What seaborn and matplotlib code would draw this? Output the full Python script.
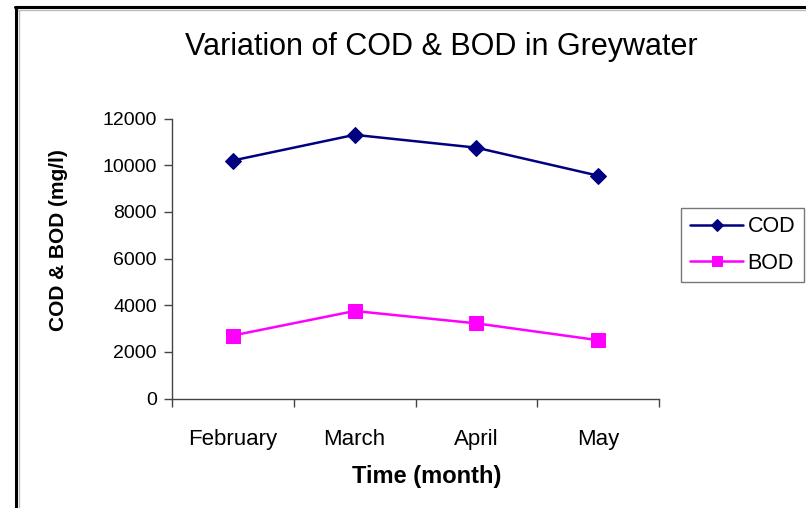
import matplotlib
matplotlib.use("Agg")
import matplotlib.pyplot as plt
import seaborn as sns
import pandas as pd
from matplotlib.lines import Line2D

# data
months = ["February", "March", "April", "May"]
cod = [10200, 11300, 10750, 9550]
bod = [2700, 3750, 3220, 2500]

df = pd.DataFrame({"month": months, "COD": cod, "BOD": bod})

sns.set_style("white")
plt.rcParams["font.family"] = ["Liberation Sans", "DejaVu Sans"]
plt.rcParams["text.color"] = "black"
plt.rcParams["axes.labelcolor"] = "black"
plt.rcParams["xtick.color"] = "black"
plt.rcParams["ytick.color"] = "black"

fig = plt.figure(figsize=(8.06, 5.08), dpi=100)
ax = fig.add_axes([172 / 806, 1 - 398.5 / 508, 487 / 806, 280 / 508])

sns.lineplot(data=df, x="month", y="COD", ax=ax, color="#000080", marker="D",
             markersize=8, markeredgecolor="#000080", linewidth=1.8, label="COD", sort=False)
sns.lineplot(data=df, x="month", y="BOD", ax=ax, color="#FF00FF", marker="s",
             markersize=10, markeredgecolor="#FF00FF", linewidth=1.8, label="BOD", sort=False)

ax.set_ylim(0, 12000)
ax.set_yticks(range(0, 12001, 2000))
ax.set_xlim(-0.5, 3.5)
ax.set_xticks([-0.5, 0.5, 1.5, 2.5, 3.5])
ax.set_xticklabels([])
ax.set_xticks(range(len(months)), minor=True)
ax.set_xticklabels(months, minor=True)
ax.tick_params(axis="x", which="major", direction="out", length=6, width=1, color="#444444", bottom=True)
ax.tick_params(axis="x", which="minor", length=0, pad=22, labelsize=16)
ax.tick_params(axis="y", direction="out", length=6, width=1, color="#444444", left=True, labelsize=14, pad=5)

for side in ["top", "right"]:
    ax.spines[side].set_visible(False)
for side in ["left", "bottom"]:
    ax.spines[side].set_color("#444444")
    ax.spines[side].set_linewidth(1)

ax.set_xlabel("Time (month)", fontsize=17, fontweight="bold")
ax.set_ylabel("COD & BOD (mg/l)", fontsize=15, fontweight="bold")
ax.xaxis.set_label_coords(427 / 806, 1 - 477 / 508, transform=fig.transFigure)
ax.xaxis.label.set_va("center")
ax.yaxis.set_label_coords(58 / 806, 1 - 240 / 508, transform=fig.transFigure)
ax.yaxis.label.set_va("center")

fig.text(441 / 806, 1 - 47 / 508, "Variation of COD & BOD in Greywater",
         fontsize=22, fontweight="medium", ha="center", va="center")

leg = ax.legend(loc="center left", bbox_to_anchor=(681 / 806, 1 - 245 / 508),
                bbox_transform=fig.transFigure, fontsize=15.5, frameon=True,
                fancybox=False, edgecolor="#555555", handlelength=2.5,
                borderpad=0.4, labelspacing=0.7, handletextpad=0.2, borderaxespad=0)
leg.get_frame().set_linewidth(1)
leg.legend_handles[0].set_markersize(6)
leg.legend_handles[1].set_markersize(7)

# outer frame (left and top edges visible in the reference)
fig.add_artist(Line2D([16 / 806, 16 / 806], [0, 1 - 7 / 508], color="black", linewidth=2.2,
                      transform=fig.transFigure))
fig.add_artist(Line2D([15 / 806, 1], [1 - 7 / 508, 1 - 7 / 508], color="black", linewidth=2.2,
                      transform=fig.transFigure))
fig.add_artist(Line2D([18.5 / 806, 18.5 / 806], [0, 1 - 9.5 / 508], color="#bbbbbb", linewidth=1,
                      transform=fig.transFigure))
fig.add_artist(Line2D([18 / 806, 1], [1 - 9.5 / 508, 1 - 9.5 / 508], color="#bbbbbb", linewidth=1,
                      transform=fig.transFigure))

fig.savefig("out.png", dpi=100)
